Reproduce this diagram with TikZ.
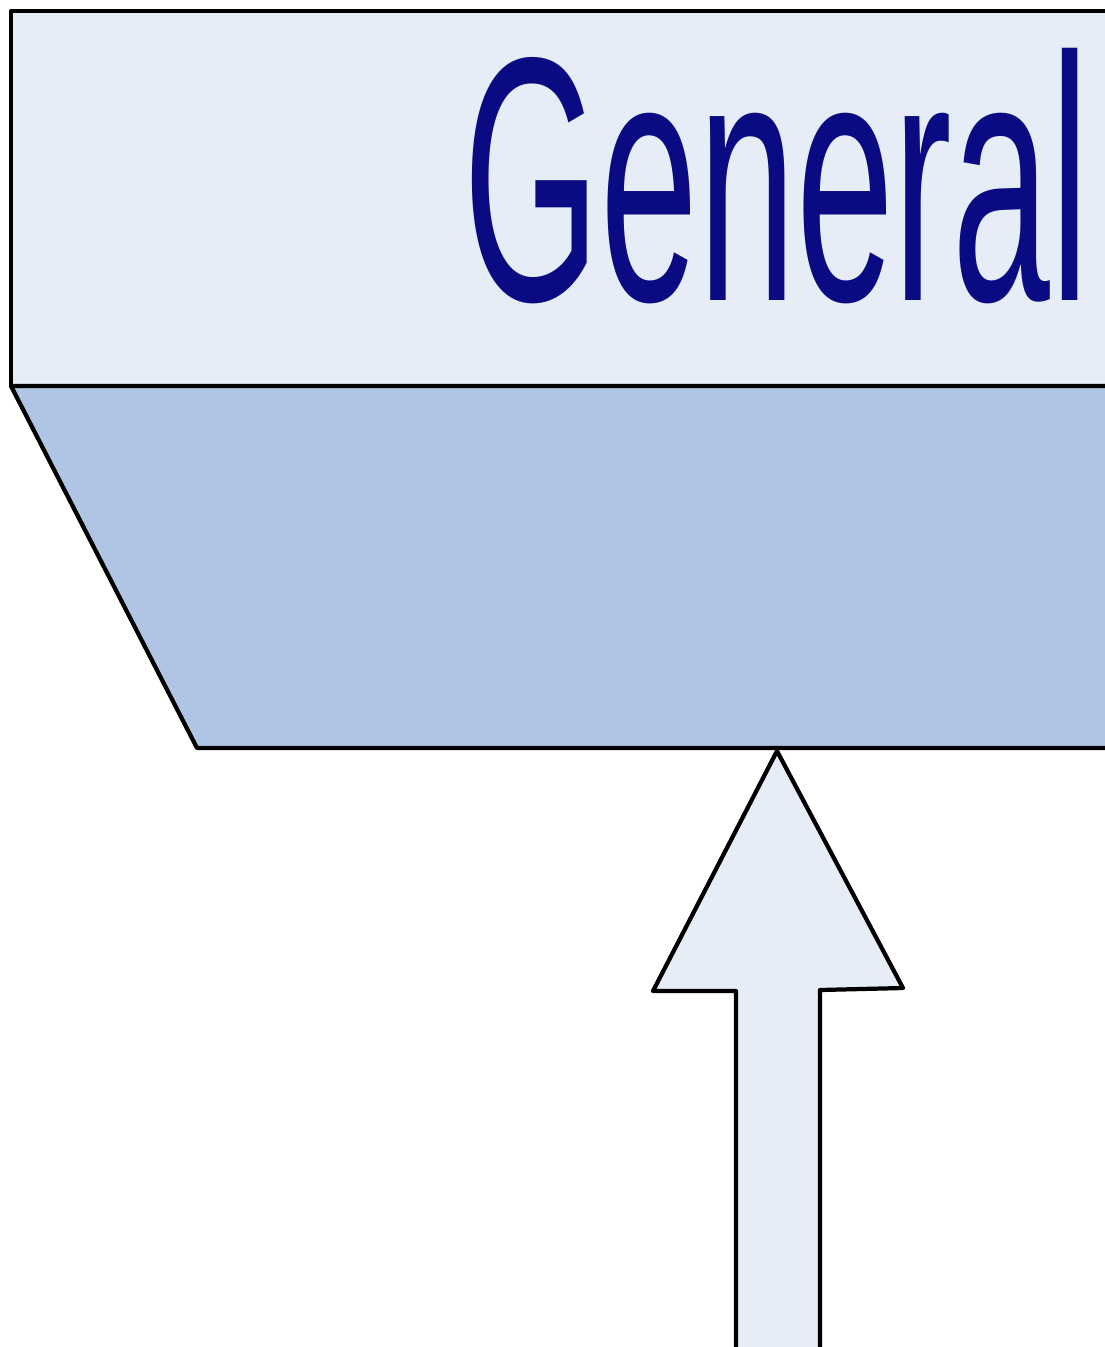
\documentclass[tikz,border=0pt]{standalone}
\usepackage{fontspec}
\usepackage{graphicx}
\setmainfont{Liberation Sans}
\definecolor{paleblue}{HTML}{E6EDF7}
\definecolor{midblue}{HTML}{B0C5E4}
\definecolor{navy}{HTML}{0A0A82}
\begin{document}
\begin{tikzpicture}[x=0.01cm, y=-0.01cm, line join=round,
	outline/.style={draw=black, line width=1.2pt}]
		\useasboundingbox (0,0) rectangle (1105,1347);
		
		% Header box
		\draw[outline, fill=paleblue] (11,11) rectangle (1130,386);
		\node[anchor=base west, inner sep=0pt, text=navy] (title) at (463,300)
			{\resizebox{6.25cm}{2.52cm}{General}};
		
		% Trapezoid band
		\draw[outline, fill=midblue] (11,386) -- (1130,386) -- (1130,748) -- (197,748) -- cycle;
		
		% Block arrow
		\draw[outline, fill=paleblue] (777,751) -- (903,988) -- (820,990) -- (820,1370)
			-- (736,1370) -- (736,991) -- (653,991) -- cycle;
	\end{tikzpicture}
\end{document}
